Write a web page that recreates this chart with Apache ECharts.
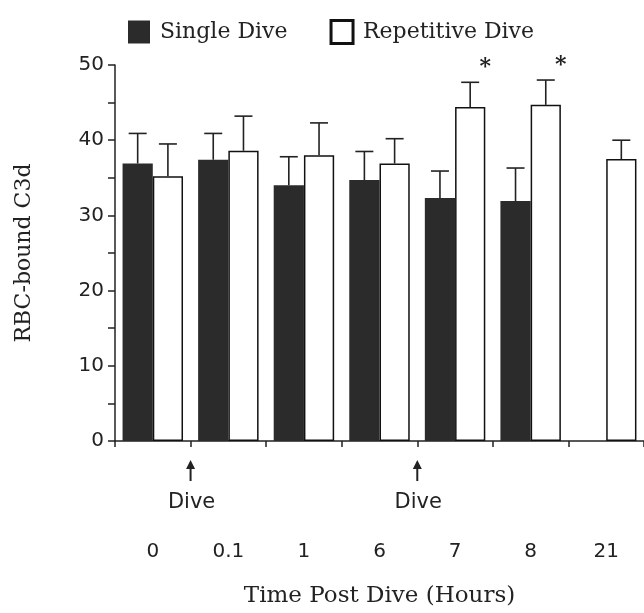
<!DOCTYPE html>
<html>
<head>
<meta charset="utf-8">
<script src="https://cdn.jsdelivr.net/npm/echarts@6/dist/echarts.min.js"></script>
<style>
html,body{margin:0;padding:0;background:#fff;}
#chart{width:644px;height:613px;}
</style>
</head>
<body>
<div id="chart"></div>
<script>
// ---- data ----
var categories = ['0', '0.1', '1', '6', '7', '8', '21'];
var singleDive = [36.9, 37.4, 34.0, 34.7, 32.3, 31.9, null];
var singleErr = [4.0, 3.5, 3.8, 3.8, 3.6, 4.4, null];
var repetitiveDive = [35.2, 38.6, 38.0, 36.9, 44.4, 44.7, 37.5];
var repetitiveErr = [4.3, 4.6, 4.3, 3.3, 3.3, 3.3, 2.5];
var repetitiveSignificant = [false, false, false, false, true, true, false];
var diveAfterIndex = [0, 3]; // dive happened between this category and the next
var yTicks = [0, 10, 20, 30, 40, 50];

var SERIF = '"DejaVu Serif", serif';
var SANS = '"DejaVu Sans", sans-serif';
var INK = '#222';

var chart = echarts.init(document.getElementById('chart'), null, {renderer: 'canvas'});

function errData(vals, errs, side) {
  var out = [];
  for (var i = 0; i < vals.length; i++) {
    if (vals[i] == null) continue;
    out.push([i, vals[i], errs[i], side]);
  }
  return out;
}

function errRender(params, api) {
  var i = api.value(0), v = api.value(1), e = api.value(2), side = api.value(3);
  var catW = api.size([1, 0])[0];
  var off = side * catW * 0.2;
  var p0 = api.coord([i, v]);
  var p1 = api.coord([i, v + e]);
  var x = p0[0] + off;
  var cap = 9;
  return {
    type: 'group',
    children: [
      {type: 'line', shape: {x1: x, y1: p0[1], x2: x, y2: p1[1]}, style: {stroke: INK, lineWidth: 1.6}},
      {type: 'line', shape: {x1: x - cap, y1: p1[1], x2: x + cap, y2: p1[1]}, style: {stroke: INK, lineWidth: 1.6}}
    ]
  };
}

var starData = [];
for (var k = 0; k < repetitiveDive.length; k++) {
  if (repetitiveSignificant[k]) starData.push([k, repetitiveDive[k] + repetitiveErr[k]]);
}

function starRender(params, api) {
  var i = api.value(0), top = api.value(1);
  var catW = api.size([1, 0])[0];
  var p = api.coord([i, top]);
  return {
    type: 'text',
    style: {
      text: '*', x: p[0] + catW * 0.4, y: p[1] - 15,
      font: 'bold 22px ' + SERIF, fill: INK, align: 'center', verticalAlign: 'middle'
    }
  };
}

var option = {
  backgroundColor: '#ffffff',
  animation: false,
  legend: {
    left: 123,
    top: 14,
    itemWidth: 22,
    itemHeight: 23,
    itemGap: 42,
    textStyle: {fontFamily: SERIF, fontSize: 22, color: INK, padding: [0, 0, 0, 5]},
    data: [
      {name: 'Single Dive', icon: 'rect'},
      {name: 'Repetitive Dive', icon: 'rect', itemStyle: {color: '#fff', borderColor: '#111', borderWidth: 3}}
    ]
  },
  grid: {left: 115, right: -2, top: 65, bottom: 170, containLabel: false},
  xAxis: {
    type: 'category',
    data: categories,
    axisLine: {lineStyle: {color: INK, width: 1.5}},
    axisTick: {show: true, length: 6, inside: false, lineStyle: {color: INK, width: 1.5}},
    axisLabel: {fontFamily: SANS, fontSize: 20, color: INK, margin: 101},
    name: 'Time Post Dive (Hours)',
    nameLocation: 'middle',
    nameGap: 144,
    nameTextStyle: {fontFamily: SERIF, fontSize: 23, color: INK},
    splitLine: {show: false}
  },
  yAxis: {
    type: 'value',
    min: 0, max: 50, interval: 5,
    axisLine: {show: true, lineStyle: {color: INK, width: 1.5}},
    axisTick: {show: true, length: 7, lineStyle: {color: INK, width: 1.5}},
    axisLabel: {
      fontFamily: SANS, fontSize: 20, color: INK, margin: 11,
      formatter: function (v) { return yTicks.indexOf(v) >= 0 ? String(v) : ''; }
    },
    splitLine: {show: false},
    name: 'RBC-bound C3d',
    nameLocation: 'middle',
    nameRotate: 90,
    nameGap: 80,
    nameTextStyle: {fontFamily: SERIF, fontSize: 22, color: INK}
  },
  series: [
    {
      name: 'Single Dive', type: 'bar', data: singleDive,
      barWidth: '40%', barGap: '0%',
      itemStyle: {color: '#2b2b2b', borderColor: '#2b2b2b', borderWidth: 0}
    },
    {
      name: 'Repetitive Dive', type: 'bar', data: repetitiveDive,
      barWidth: '40%', barGap: '0%',
      itemStyle: {color: '#ffffff', borderColor: '#111', borderWidth: 1.5}
    },
    {type: 'custom', name: 'errS', data: errData(singleDive, singleErr, -1), renderItem: errRender, z: 5},
    {type: 'custom', name: 'errR', data: errData(repetitiveDive, repetitiveErr, 1), renderItem: errRender, z: 5},
    {type: 'custom', name: 'stars', data: starData, renderItem: starRender, z: 6}
  ]
};

chart.setOption(option);

// Dive arrows between categories
var y0 = chart.convertToPixel({yAxisIndex: 0}, 0);
var g = [];
diveAfterIndex.forEach(function (idx) {
  var xa = chart.convertToPixel({xAxisIndex: 0}, idx);
  var xb = chart.convertToPixel({xAxisIndex: 0}, idx + 1);
  var x = (xa + xb) / 2;
  g.push({type: 'line', shape: {x1: x, y1: y0 + 26, x2: x, y2: y0 + 40}, style: {stroke: INK, lineWidth: 2}});
  g.push({type: 'polygon', shape: {points: [[x, y0 + 19], [x - 4.5, y0 + 28], [x + 4.5, y0 + 28]]}, style: {fill: INK}});
  g.push({type: 'text', style: {text: 'Dive', x: x + 1, y: y0 + 62, font: '21px ' + SANS, fill: INK, align: 'center', verticalAlign: 'middle'}});
});
chart.setOption({graphic: g});
</script>
</body>
</html>
